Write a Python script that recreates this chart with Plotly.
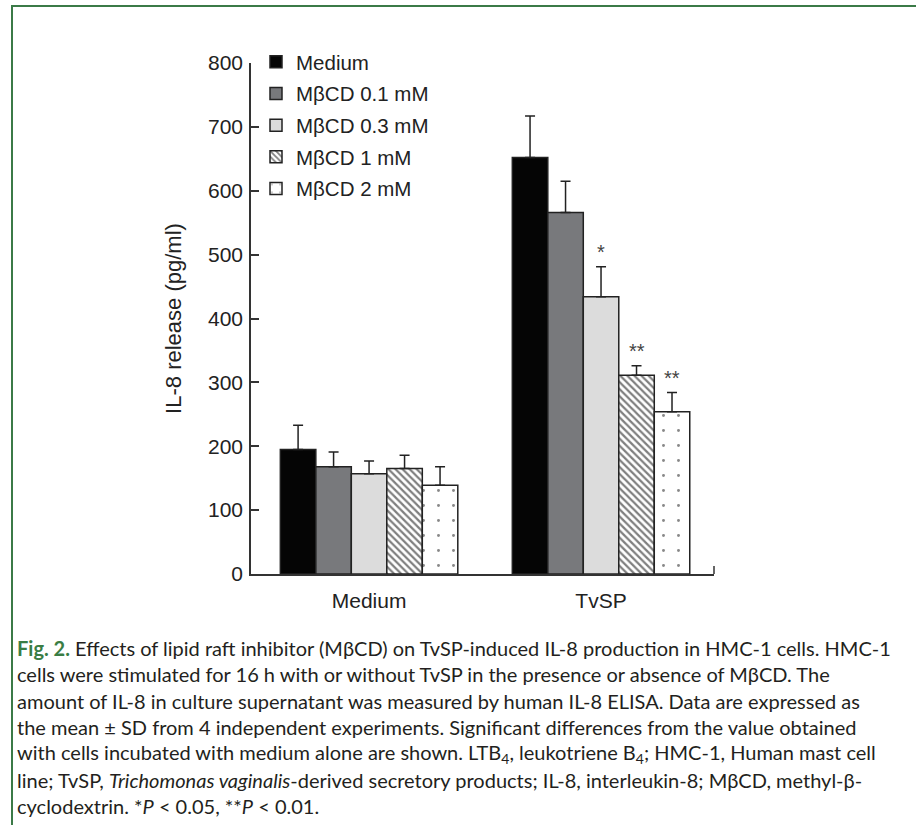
import plotly.graph_objects as go

# ---- data ----
groups = ["Medium", "TvSP"]
series_names = ["Medium", "MβCD 0.1 mM", "MβCD 0.3 mM", "MβCD 1 mM", "MβCD 2 mM"]
means = {
    "Medium":      [195, 652],
    "MβCD 0.1 mM": [168, 566],
    "MβCD 0.3 mM": [157, 434],
    "MβCD 1 mM":   [165, 311],
    "MβCD 2 mM":   [139, 254],
}
sds = {
    "Medium":      [38, 65],
    "MβCD 0.1 mM": [23, 49],
    "MβCD 0.3 mM": [20, 47],
    "MβCD 1 mM":   [21, 15],
    "MβCD 2 mM":   [29, 30],
}
stars = {
    "Medium":      ["", ""],
    "MβCD 0.1 mM": ["", ""],
    "MβCD 0.3 mM": ["", "*"],
    "MβCD 1 mM":   ["", "**"],
    "MβCD 2 mM":   ["", "**"],
}
y_ticks = [0, 100, 200, 300, 400, 500, 600, 700, 800]
y_title = "IL-8 release (pg/ml)"
caption_lines = [
    "<b><span style='color:#3a7d44'>Fig. 2.</span></b> Effects of lipid raft inhibitor (MβCD) on TvSP-induced IL-8 production in HMC-1 cells. HMC-1",
    "cells were stimulated for 16 h with or without TvSP in the presence or absence of MβCD. The",
    "amount of IL-8 in culture supernatant was measured by human IL-8 ELISA. Data are expressed as",
    "the mean ± SD from 4 independent experiments. Significant differences from the value obtained",
    "with cells incubated with medium alone are shown. LTB<sub>4</sub>, leukotriene B<sub>4</sub>; HMC-1, Human mast cell",
    "line; TvSP, <i>Trichomonas vaginalis</i>-derived secretory products; IL-8, interleukin-8; MβCD, methyl-β-",
    "cyclodextrin. *<i>P</i> < 0.05, **<i>P</i> < 0.01.",
]

# ---- styles ----
styles = {
    "Medium":      dict(color="#050505", pattern=None),
    "MβCD 0.1 mM": dict(color="#78797c", pattern=None),
    "MβCD 0.3 mM": dict(color="#dcdcdc", pattern=None),
    "MβCD 1 mM":   dict(color="#ffffff", pattern=dict(shape="\\", fgcolor="#000000", bgcolor="#ffffff", size=5, solidity=0.45)),
    "MβCD 2 mM":   dict(color="#ffffff", pattern=dict(shape=".", fgcolor="#111111", bgcolor="#ffffff", size=15, solidity=0.03)),
}
FONT = "Liberation Sans"
FS = 21

W, H = 916, 825
L, R, T, B = 251, 714, 63, 574   # plot area in px
def px_x(px):
    return (px - L) / (R - L)
def px_y(py):
    return (B - py) / (B - T)

BARGAP = 0.235
XR = [-0.509, 1.487]

fig = go.Figure()
for name in series_names:
    st = styles[name]
    marker = dict(color=st["color"], line=dict(color="#222222", width=1.5))
    if st["pattern"] is not None:
        marker["pattern"] = st["pattern"]
    fig.add_trace(go.Bar(
        name=name, x=groups, y=means[name],
        marker=marker,
        legendgroup=name,
        error_y=dict(type="data", array=sds[name], arrayminus=[0] * len(groups),
                     symmetric=False, color="#222222", thickness=1.5, width=5),
    ))

# significance stars
n = len(series_names)
w = (1 - BARGAP) / n
for i, name in enumerate(series_names):
    for gi, g in enumerate(groups):
        s = stars[name][gi]
        if s:
            fig.add_annotation(
                x=gi + (i - (n - 1) / 2) * w, y=means[name][gi] + sds[name][gi],
                xref="x", yref="y", text=s, showarrow=False,
                yanchor="bottom", yshift=2,
                font=dict(family=FONT, size=20, color="#444444"),
            )

# caption
for k, line in enumerate(caption_lines):
    fig.add_annotation(
        x=px_x(15), y=px_y(648 + k * 26.3), xref="paper", yref="paper",
        xanchor="left", yanchor="middle", showarrow=False, align="left",
        text=line, font=dict(family="Lato", size=20, color="#231f20"),
    )

shapes = [
    # green frame
    dict(type="line", xref="paper", yref="paper", x0=px_x(12), x1=px_x(916), y0=px_y(6), y1=px_y(6),
         line=dict(color="#3b7a47", width=2)),
    dict(type="line", xref="paper", yref="paper", x0=px_x(12), x1=px_x(12), y0=px_y(5), y1=px_y(825),
         line=dict(color="#3b7a47", width=2)),
    # end tick of x axis
    dict(type="line", xref="paper", yref="paper", x0=1, x1=1, y0=0, y1=px_y(B - 8),
         line=dict(color="#333333", width=1.5)),
]

fig.update_layout(
    width=W, height=H,
    margin=dict(l=L, r=W - R, t=T, b=H - B, autoexpand=False),
    paper_bgcolor="white", plot_bgcolor="white",
    barmode="group", bargap=BARGAP, bargroupgap=0,
    font=dict(family=FONT, size=FS, color="#222222"),
    showlegend=True,
    legend=dict(x=px_x(256), y=px_y(42), xanchor="left", yanchor="top",
                bgcolor="rgba(0,0,0,0)", tracegroupgap=2,
                font=dict(family=FONT, size=20.5, color="#222222")),
    shapes=shapes,
)
fig.update_xaxes(
    type="category", range=XR, showline=True, linecolor="#333333", linewidth=1.5,
    ticks="", showgrid=False, zeroline=False, ticklabelstandoff=7,
    tickfont=dict(family=FONT, size=FS, color="#222222"),
)
fig.update_yaxes(
    range=[0, 800], tickvals=y_ticks, showline=True, linecolor="#333333", linewidth=1.5,
    ticks="inside", ticklen=8, tickwidth=1.5, tickcolor="#333333",
    showgrid=False, zeroline=False, ticklabelstandoff=2,
    tickfont=dict(family=FONT, size=FS, color="#222222"),
    title=dict(text=y_title, standoff=20, font=dict(family=FONT, size=22, color="#222222")),
)

fig.write_html("out.html", config={"displayModeBar": False},
               post_script="document.body.style.margin='0';")
